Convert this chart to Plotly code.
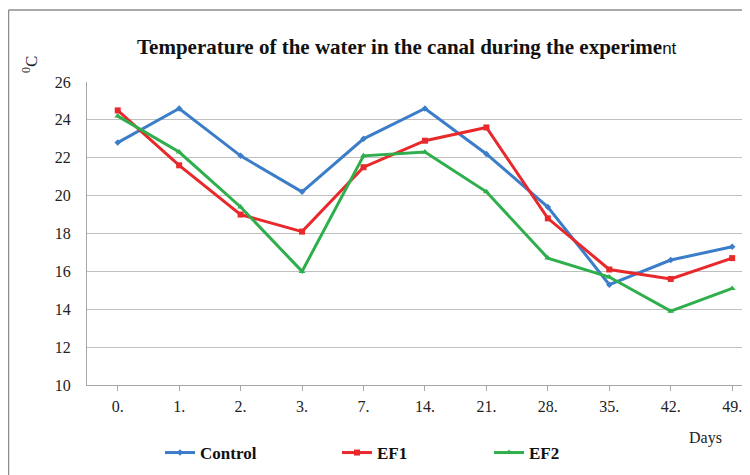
import plotly.graph_objects as go

days = ["0.", "1.", "2.", "3.", "7.", "14.", "21.", "28.", "35.", "42.", "49."]
control = [22.8, 24.6, 22.1, 20.2, 23.0, 24.6, 22.2, 19.4, 15.3, 16.6, 17.3]
ef1 = [24.5, 21.6, 19.0, 18.1, 21.5, 22.9, 23.6, 18.8, 16.1, 15.6, 16.7]
ef2 = [24.2, 22.3, 19.4, 16.0, 22.1, 22.3, 20.2, 16.7, 15.7, 13.9, 15.1]
y_ticks = [10, 12, 14, 16, 18, 20, 22, 24, 26]

FONT = "Liberation Serif, Times New Roman, serif"

# page has an 8px body margin: figure pixel = page pixel - 8
W, H = 742, 467
L, T, B = 79, 74, 90
PW, PH = W - L, H - T - B


def cx(px):
    return (px - 8) / W


def cy(py):
    return 1 - (py - 8) / H


def px_(px):
    return (px - 8 - L) / PW


def py_(py):
    return (T + PH - (py - 8)) / PH


series = [
    ("Control", control, "#3b7dc8", "diamond", 5, "legend2"),
    ("EF1", ef1, "#e8282b", "square", 6, "legend3"),
    ("EF2", ef2, "#2fae4c", "triangle-up", 6, "legend4"),
]

fig = go.Figure()
for name, vals, col, sym, ms, lg in series:
    fig.add_trace(go.Scatter(
        x=days, y=vals, name=name, mode="lines+markers",
        line=dict(color=col, width=3),
        marker=dict(symbol=sym, size=ms, color=col),
        legend=lg,
    ))

legend_common = dict(
    orientation="h", xref="container", yref="container",
    yanchor="middle", xanchor="left",
    font=dict(family=FONT, size=17, color="#111", weight="bold"),
    bgcolor="rgba(0,0,0,0)", borderwidth=0,
)

fig.update_layout(
    width=W, height=H,
    margin=dict(l=L, r=0, t=T, b=B, autoexpand=False),
    paper_bgcolor="white", plot_bgcolor="white",
    font=dict(family=FONT, size=16, color="#222"),
    title=dict(
        text="<b>Temperature of the water in the canal during the experime</b>"
             "<span style='font-family:Liberation Sans, Arial, sans-serif;font-size:17px'>nt</span>",
        x=cx(137), xanchor="left", y=cy(47), yanchor="middle",
        xref="container", yref="container",
        font=dict(family=FONT, size=21, color="#111"),
    ),
    xaxis=dict(
        type="category", categoryorder="array", categoryarray=days,
        range=[-0.5, 10.29], automargin=False,
        showgrid=False, showline=True, linecolor="#a6a6a6", linewidth=1,
        ticks="outside", ticklen=5, tickcolor="#a6a6a6",
        tickfont=dict(family=FONT, size=16, color="#222"),
        ticklabelstandoff=2,
    ),
    yaxis=dict(
        range=[10, 26], tickvals=y_ticks, automargin=False,
        showgrid=True, gridcolor="#bfbfbf", gridwidth=1.2,
        showline=True, linecolor="#a6a6a6", linewidth=1,
        zeroline=False, ticks="",
        tickfont=dict(family=FONT, size=16, color="#222"),
        ticklabelstandoff=12,
    ),
    legend2=dict(x=cx(160), y=cy(453), **legend_common),
    legend3=dict(x=cx(337), y=cy(453), **legend_common),
    legend4=dict(x=cx(489), y=cy(453), **legend_common),
    annotations=[
        dict(text="Days", xref="paper", yref="paper",
             x=px_(705), y=py_(438),
             showarrow=False, xanchor="center", yanchor="middle",
             font=dict(family=FONT, size=16, color="#222")),
        dict(text="<sup>0</sup>C", xref="paper", yref="paper",
             x=px_(30), y=py_(65),
             showarrow=False, textangle=-90, xanchor="center", yanchor="middle",
             font=dict(family=FONT, size=17, color="#222")),
    ],
    shapes=[
        dict(type="line", xref="paper", yref="paper",
             x0=px_(8.5), x1=px_(760), y0=py_(10), y1=py_(10),
             line=dict(color="#8c8c8c", width=1.5)),
        dict(type="line", xref="paper", yref="paper",
             x0=px_(8.5), x1=px_(8.5), y0=py_(10), y1=py_(480),
             line=dict(color="#8c8c8c", width=1.5)),
    ],
)

fig.write_html("out.html")
